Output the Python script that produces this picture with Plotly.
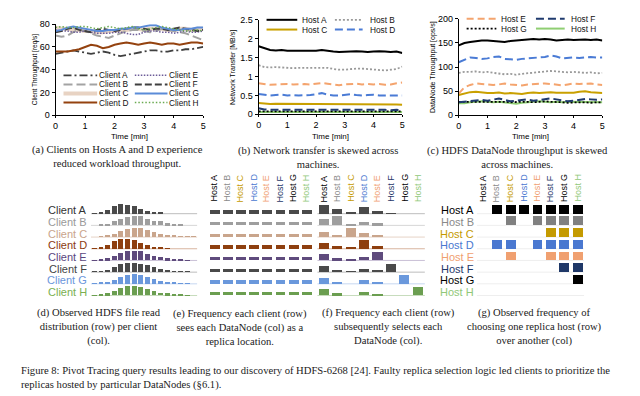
import plotly.graph_objects as go

# The page body has an 8px margin; lay the figure out in reference pixels
# and shift everything by that margin.
OX, OY = 8, 8
W, H = 640 - OX, 396 - OY


def px(x):
    return (x - OX) / W


def py(y):
    return 1 - (y - OY) / H


SANS = "Liberation Sans, Arial, sans-serif"
SERIF = "Liberation Serif, Times New Roman, serif"

# ---------------- data: time series ----------------
time_min = [0.0, 0.2, 0.4, 0.6, 0.8, 1.0, 1.2, 1.4, 1.6, 1.8, 2.0, 2.2, 2.4,
            2.6, 2.8, 3.0, 3.2, 3.4, 3.6, 3.8, 4.0, 4.2, 4.4, 4.6, 4.8, 5.0]

client_names = ["Client A", "Client B", "Client C", "Client D",
                "Client E", "Client F", "Client G", "Client H"]
client_a = [54, 55, 56, 57, 56, 55, 54, 55, 56, 55, 53, 52, 53, 54, 55, 56, 57, 57, 56, 56, 57, 57, 58, 58, 59, 60]
client_b = [70, 69, 70, 73, 75, 74, 72, 70, 69, 68, 70, 72, 74, 75, 75, 74, 73, 74, 76, 75, 74, 73, 72, 70, 68, 66]
client_c = [77, 76, 76, 75, 75, 74, 74, 73, 73, 74, 74, 75, 75, 76, 76, 75, 76, 76, 76, 75, 75, 76, 76, 75, 76, 76]
client_d = [56, 56, 56, 57, 58, 60, 62, 61, 59, 60, 62, 63, 64, 63, 62, 63, 64, 63, 62, 63, 63, 62, 63, 64, 64, 63]
client_e = [75, 74, 74, 73, 73, 74, 73, 72, 72, 72, 73, 73, 72, 71, 71, 73, 74, 74, 73, 73, 72, 73, 74, 73, 73, 74]
client_f = [73, 74, 76, 77, 75, 74, 73, 75, 76, 75, 74, 75, 76, 77, 77, 76, 75, 76, 76, 75, 76, 77, 76, 75, 74, 75]
client_g = [74, 75, 77, 78, 77, 76, 75, 74, 74, 75, 75, 76, 76, 77, 77, 78, 79, 79, 77, 76, 75, 75, 76, 76, 77, 77]
client_h = [77, 78, 77, 77, 78, 78, 77, 76, 77, 78, 77, 76, 77, 78, 76, 75, 76, 77, 78, 77, 76, 75, 74, 74, 75, 74]

host_names = ["Host A", "Host B", "Host C", "Host D",
              "Host E", "Host F", "Host G", "Host H"]
net_a = [1.80, 1.74, 1.70, 1.69, 1.70, 1.68, 1.68, 1.69, 1.68, 1.67, 1.68, 1.70, 1.67, 1.66, 1.65, 1.66, 1.66, 1.67, 1.66, 1.65, 1.66, 1.67, 1.66, 1.65, 1.66, 1.62]
net_b = [1.30, 1.25, 1.24, 1.25, 1.24, 1.23, 1.22, 1.23, 1.23, 1.24, 1.23, 1.24, 1.23, 1.20, 1.18, 1.18, 1.20, 1.21, 1.21, 1.20, 1.20, 1.19, 1.16, 1.18, 1.20, 1.26]
net_c = [0.30, 0.28, 0.27, 0.28, 0.28, 0.27, 0.28, 0.28, 0.27, 0.28, 0.28, 0.28, 0.27, 0.28, 0.27, 0.28, 0.28, 0.27, 0.27, 0.28, 0.28, 0.27, 0.27, 0.26, 0.26, 0.25]
net_d = [0.54, 0.52, 0.50, 0.51, 0.52, 0.50, 0.51, 0.50, 0.50, 0.51, 0.53, 0.56, 0.52, 0.50, 0.50, 0.52, 0.53, 0.51, 0.50, 0.51, 0.52, 0.50, 0.50, 0.51, 0.51, 0.50]
net_e = [0.82, 0.80, 0.78, 0.79, 0.80, 0.80, 0.79, 0.80, 0.80, 0.79, 0.80, 0.83, 0.81, 0.79, 0.77, 0.79, 0.80, 0.81, 0.79, 0.80, 0.79, 0.80, 0.78, 0.79, 0.82, 0.84]
net_f = [0.16, 0.13, 0.12, 0.12, 0.13, 0.13, 0.12, 0.12, 0.13, 0.13, 0.12, 0.13, 0.12, 0.12, 0.12, 0.13, 0.12, 0.12, 0.14, 0.13, 0.12, 0.12, 0.12, 0.11, 0.12, 0.10]
net_g = [0.08, 0.08, 0.08, 0.08, 0.08, 0.08, 0.08, 0.08, 0.08, 0.08, 0.08, 0.08, 0.08, 0.08, 0.08, 0.08, 0.08, 0.08, 0.08, 0.08, 0.08, 0.08, 0.08, 0.08, 0.08, 0.08]
net_h = [0.06, 0.06, 0.06, 0.06, 0.06, 0.06, 0.06, 0.06, 0.06, 0.06, 0.06, 0.06, 0.06, 0.06, 0.06, 0.06, 0.06, 0.06, 0.06, 0.06, 0.06, 0.06, 0.06, 0.06, 0.06, 0.06]

dn_a = [145, 150, 152, 154, 155, 155, 154, 153, 152, 154, 155, 157, 157, 158, 157, 158, 157, 155, 156, 157, 156, 157, 157, 156, 157, 155]
dn_b = [88, 90, 90, 91, 89, 90, 88, 87, 85, 86, 84, 86, 87, 89, 89, 90, 92, 91, 90, 89, 90, 89, 88, 89, 87, 88]
dn_c = [42, 45, 48, 49, 47, 46, 46, 47, 45, 46, 45, 44, 46, 47, 46, 47, 48, 47, 47, 48, 47, 49, 50, 48, 47, 46]
dn_d = [110, 115, 120, 119, 117, 118, 121, 122, 117, 116, 115, 117, 118, 119, 120, 121, 124, 122, 118, 119, 120, 119, 120, 121, 120, 120]
dn_e = [45, 58, 63, 66, 65, 64, 63, 64, 66, 64, 63, 62, 64, 65, 65, 66, 65, 63, 62, 64, 66, 65, 65, 66, 64, 63]
dn_f = [27, 28, 30, 31, 32, 30, 33, 35, 32, 29, 30, 32, 33, 30, 32, 34, 35, 33, 31, 29, 30, 32, 34, 33, 32, 33]
dn_g = [28, 28, 29, 28, 28, 28, 29, 28, 28, 27, 28, 28, 28, 27, 28, 29, 28, 28, 27, 26, 27, 27, 27, 26, 27, 27]
dn_h = [25, 25, 27, 28, 29, 28, 27, 28, 27, 25, 24, 26, 27, 28, 29, 28, 27, 28, 27, 28, 28, 27, 28, 28, 27, 27]

# ---------------- data: matrices ----------------
read_bins = list(range(16))
read_dist = [
    [0.3, 1.5, 4, 8, 10, 9.5, 8, 5, 3, 2, 1, 0, 0, 0, 0, 0],
    [0, 0.3, 1.5, 4, 7, 9, 10, 9.5, 7, 5, 4, 2, 1, 0.3, 0, 0],
    [0, 0.3, 1, 3, 6, 8.5, 10, 9.5, 7, 5, 3.5, 2, 1.2, 0.8, 0.5, 0.3],
    [0.4, 1.5, 4, 8.5, 10, 10, 9, 6, 4, 2, 1, 0.5, 0, 0, 0, 0],
    [0.3, 0.8, 2, 4.5, 8, 9.5, 10, 9.5, 7, 5, 3, 2, 1.2, 0.6, 0.3, 0],
    [0.3, 0.8, 2.5, 5.5, 8.5, 10, 10, 9, 7, 5, 3, 2, 1, 0.5, 0.3, 0],
    [0.3, 0.8, 2, 4, 7, 9, 10, 9, 7, 5, 3, 2, 1.2, 0.5, 0.3, 0],
    [0.3, 0.8, 2, 5, 8, 10, 10, 9, 7, 5, 3, 2, 1.2, 0.5, 0.3, 0],
]
replica_seen = [
    [0.125, 0.125, 0.125, 0.125, 0.125, 0.125, 0.125, 0.125],
    [0.125, 0.125, 0.125, 0.125, 0.125, 0.125, 0.125, 0.125],
    [0.125, 0.125, 0.125, 0.125, 0.125, 0.125, 0.125, 0.125],
    [0.125, 0.125, 0.125, 0.125, 0.125, 0.125, 0.125, 0.125],
    [0.125, 0.125, 0.125, 0.125, 0.125, 0.125, 0.125, 0.125],
    [0.125, 0.125, 0.125, 0.125, 0.125, 0.125, 0.125, 0.125],
    [0.125, 0.125, 0.125, 0.125, 0.125, 0.125, 0.125, 0.125],
    [0.125, 0.125, 0.125, 0.125, 0.125, 0.125, 0.125, 0.125],
]
replica_selected = [
    [9.0, 4.5, 1.0, 6.7, 3.0, 0.2, 0.0, 0.0],
    [6.0, 9.0, 1.0, 3.7, 2.0, 0.0, 0.0, 0.0],
    [5.3, 2.0, 8.7, 4.3, 1.0, 0.0, 0.0, 0.0],
    [6.0, 2.7, 1.3, 8.3, 3.0, 0.0, 0.0, 0.0],
    [6.0, 2.0, 1.0, 3.5, 8.3, 0.0, 0.0, 0.0],
    [6.0, 2.0, 0.3, 3.3, 1.0, 8.5, 0.0, 0.0],
    [6.0, 2.0, 0.0, 3.8, 1.0, 0.0, 8.5, 0.0],
    [6.0, 2.0, 0.0, 3.8, 1.0, 0.0, 0.0, 8.0],
]
preferred_over = [
    [0, 1, 1, 1, 1, 1, 1, 1],
    [0, 0, 1, 0, 1, 1, 1, 1],
    [0, 0, 0, 0, 0, 1, 1, 1],
    [0, 1, 1, 0, 1, 1, 1, 1],
    [0, 0, 1, 0, 0, 1, 1, 1],
    [0, 0, 0, 0, 0, 0, 1, 1],
    [0, 0, 0, 0, 0, 0, 0, 1],
    [0, 0, 0, 0, 0, 0, 0, 0],
]

# ---------------- styles ----------------
client_series = [client_a, client_b, client_c, client_d, client_e, client_f, client_g, client_h]
client_styles = [
    dict(color="#3f3f3f", width=1.8, dash="8px,3px,2px,3px"),
    dict(color="#a3a3a3", width=2.0, dash="9px,4px"),
    dict(color="#e8d3c3", width=4.0, dash="solid"),
    dict(color="#94420f", width=2.0, dash="solid"),
    dict(color="#6c5c98", width=1.5, dash="1.5px,1.5px"),
    dict(color="#3f3f3f", width=2.0, dash="7px,3px"),
    dict(color="#5b8bd8", width=2.0, dash="solid"),
    dict(color="#6aaa50", width=1.5, dash="1.5px,2px"),
]
host_styles = [
    dict(color="#000000", width=2.0, dash="solid"),
    dict(color="#9a9a9a", width=1.8, dash="2px,2px"),
    dict(color="#c9a000", width=2.0, dash="solid"),
    dict(color="#4a7bd5", width=2.0, dash="8px,4px"),
    dict(color="#f4a46e", width=2.0, dash="7px,4px"),
    dict(color="#1f3a6e", width=2.0, dash="8px,4px"),
    dict(color="#000000", width=1.8, dash="2px,2px"),
    dict(color="#8fce72", width=2.0, dash="solid"),
]
row_colors = ["#4a4a4a", "#9e9e9e", "#c9a58c", "#8e3f0f",
              "#5f4b7d", "#4a4a4a", "#6a98dc", "#6b9e50"]
row_light = ["#bdbdbd", "#d6d6d6", "#e6d3c6", "#d8b59f",
             "#c9c0d6", "#bdbdbd", "#c6d7f1", "#c7dcbc"]
client_label_colors = ["#333333", "#9a9a9a", "#c9a48c", "#8b3a0f",
                       "#5a4680", "#444444", "#6a96dc", "#7ab050"]
host_label_colors = ["#000000", "#8a8a8a", "#c49a00", "#4a78d0",
                     "#f0a070", "#1f3868", "#000000", "#90c878"]
host_cell_colors = ["#000000", "#808080", "#c49a00", "#4a78d0",
                    "#f0a070", "#1f3868", "#000000", "#90c878"]

fig = go.Figure()

# (a)
for idx in [2, 0, 1, 3, 4, 5, 6, 7]:
    fig.add_trace(go.Scatter(x=time_min, y=client_series[idx], mode="lines",
                             name=client_names[idx], line=client_styles[idx],
                             xaxis="x", yaxis="y", showlegend=False))
# (b)
net_series = [net_a, net_b, net_c, net_d, net_e, net_f, net_g, net_h]
for idx in [7, 6, 5, 2, 3, 4, 1, 0]:
    fig.add_trace(go.Scatter(x=time_min, y=net_series[idx], mode="lines",
                             name=host_names[idx], line=host_styles[idx],
                             xaxis="x2", yaxis="y2", showlegend=False))
# (c)
dn_series = [dn_a, dn_b, dn_c, dn_d, dn_e, dn_f, dn_g, dn_h]
for idx in [7, 6, 5, 2, 4, 1, 3, 0]:
    fig.add_trace(go.Scatter(x=time_min, y=dn_series[idx], mode="lines",
                             name=host_names[idx], line=host_styles[idx],
                             xaxis="x3", yaxis="y3", showlegend=False))

shapes = []
annotations = []

# (d) read distribution per client
for i, row in enumerate(read_dist):
    base = 7 - i
    shapes.append(dict(type="line", xref="x4", yref="y4", x0=-0.6, x1=16.0,
                       y0=base, y1=base, layer="below",
                       line=dict(color=row_light[i], width=1)))
    fig.add_trace(go.Bar(x=read_bins, y=[v * 0.08 for v in row], base=[base] * len(row),
                         width=0.72, marker=dict(color=row_colors[i], line=dict(width=0)),
                         xaxis="x4", yaxis="y4", showlegend=False, name=client_names[i]))
    annotations.append(dict(text=client_names[i], x=px(87), xref="paper", xanchor="right",
                            y=base + 0.3, yref="y4", yanchor="middle", showarrow=False,
                            font=dict(family=SANS, size=11, color=client_label_colors[i])))

host_idx = list(range(8))
# (e)
for i, row in enumerate(replica_seen):
    base = 7 - i
    fig.add_trace(go.Bar(x=host_idx, y=[v * 2.2 for v in row], base=[base] * 8,
                         width=0.75, marker=dict(color=row_colors[i], line=dict(width=0)),
                         xaxis="x5", yaxis="y5", showlegend=False, name=client_names[i]))
# (f)
for i, row in enumerate(replica_selected):
    base = 7 - i
    shapes.append(dict(type="line", xref="x6", yref="y6", x0=-0.5, x1=8.3,
                       y0=base, y1=base, layer="below",
                       line=dict(color=row_light[i], width=1)))
    fig.add_trace(go.Bar(x=host_idx, y=[v * 0.085 for v in row], base=[base] * 8,
                         width=0.75, marker=dict(color=row_colors[i], line=dict(width=0)),
                         xaxis="x6", yaxis="y6", showlegend=False, name=client_names[i]))
# (g)
for i, row in enumerate(preferred_over):
    base = 7 - i
    shapes.append(dict(type="line", xref="x7", yref="y7", x0=-0.5, x1=7.5,
                       y0=base, y1=base, layer="below",
                       line=dict(color="#eeeeee", width=1)))
    xs = [j for j, v in enumerate(row) if v]
    if xs:
        fig.add_trace(go.Bar(x=xs, y=[0.75] * len(xs), base=[base] * len(xs),
                             width=0.74, marker=dict(color=host_cell_colors[i], line=dict(width=0)),
                             xaxis="x7", yaxis="y7", showlegend=False, name=host_names[i]))
    annotations.append(dict(text=host_names[i], x=px(477), xref="paper", xanchor="right",
                            y=base + 0.3, yref="y7", yanchor="middle", showarrow=False,
                            font=dict(family=SANS, size=11, color=host_label_colors[i])))

# column labels for (e), (f), (g)
for ax in ["x5", "x6", "x7"]:
    for j in host_idx:
        annotations.append(dict(text=host_names[j], x=j, xref=ax, xanchor="center",
                                y=py(203), yref="paper", yanchor="bottom", textangle=-90,
                                showarrow=False, borderpad=0,
                                font=dict(family=SANS, size=9, color=host_label_colors[j])))

# legends (manual, compact)
def legend_entry(x0, x1, xt, y, style, label):
    shapes.append(dict(type="line", xref="paper", yref="paper", x0=px(x0), x1=px(x1),
                       y0=py(y), y1=py(y), line=style))
    annotations.append(dict(text=label, x=px(xt), xref="paper", xanchor="left",
                            y=py(y), yref="paper", yanchor="middle", showarrow=False,
                            borderpad=0, font=dict(family=SANS, size=8.3, color="#111")))

for k in range(4):
    legend_entry(61, 95, 96, 72 + 9.3 * k, client_styles[k], client_names[k])
    legend_entry(133, 166, 167, 72 + 9.3 * k, client_styles[k + 4], client_names[k + 4])
for k, (hl, hr) in enumerate([(0, 1), (2, 3)]):
    legend_entry(266, 297, 301, 15 + 10 * k, host_styles[hl], host_names[hl])
    legend_entry(335, 363, 369, 15 + 10 * k, host_styles[hr], host_names[hr])
for k, (hl, hr) in enumerate([(4, 5), (6, 7)]):
    legend_entry(468, 498, 502, 14 + 10 * k, host_styles[hl], host_names[hl])
    legend_entry(538, 567, 572, 14 + 10 * k, host_styles[hr], host_names[hr])

# axis titles (placed tightly as in the reference)
axis_titles = [
    ("Time [min]", 127.5, 135, 0, 8),
    ("Time [min]", 330.5, 134.5, 0, 8),
    ("Time [min]", 532.5, 135, 0, 8),
    ("Client Throughput [req/s]", 32, 66, -90, 6.5),
    ("Network Transfer [MB/s]", 232, 63.5, -90, 7),
    ("DataNode Throughput [ops/s]", 434, 63.5, -90, 7),
]
for text, cx, cy, ang, size in axis_titles:
    annotations.append(dict(text=text, x=px(cx), y=py(cy), xref="paper", yref="paper",
                            xanchor="center", yanchor="middle", textangle=ang,
                            showarrow=False, borderpad=0,
                            font=dict(family=SANS, size=size, color="#000")))

# captions
captions = [
    ("(a) Clients on Hosts A and D experience<br>reduced workload throughput.", 116, 155.5),
    ("(b) Network transfer is skewed across<br>machines.", 318, 156),
    ("(c) HDFS DataNode throughput is skewed<br>across machines.", 519, 156),
    ("(d) Observed HDFS file read<br>distribution (row) per client<br>(col).", 97, 330.5),
    ("(e) Frequency each client (row)<br>sees each DataNode (col) as a<br>replica location.", 239, 330.5),
    ("(f) Frequency each client (row)<br>subsequently selects each<br>DataNode (col).", 389, 330.5),
    ("(g) Observed frequency of<br>choosing one replica host (row)<br>over another (col)", 537, 330.5),
]
for text, cx, cy in captions:
    annotations.append(dict(text=text, x=px(cx), y=py(cy), xref="paper", yref="paper",
                            xanchor="center", yanchor="middle", align="center",
                            showarrow=False, borderpad=0,
                            font=dict(family=SERIF, size=10.6, color="#1a1a1a")))
annotations.append(dict(
    text="Figure 8: Pivot Tracing query results leading to our discovery of HDFS-6268 [24]. "
         "Faulty replica selection logic led clients to prioritize the<br>"
         "replicas hosted by particular DataNodes (§6.1).",
    x=px(17), y=py(382.5), xref="paper", yref="paper", xanchor="left", yanchor="middle",
    align="left", showarrow=False, borderpad=0,
    font=dict(family=SERIF, size=10.6, color="#1a1a1a")))

# axes
def line_axis(domain, rng, dtick, anchor, tickvals=None, ticktext=None, ticklen=3):
    ax = dict(domain=domain, range=rng, anchor=anchor, showgrid=False, zeroline=False,
              showline=True, linecolor="#000", linewidth=1, ticks="outside",
              ticklen=ticklen, tickwidth=1, tickcolor="#000",
              tickfont=dict(family=SANS, size=9, color="#000"),
              fixedrange=True)
    if tickvals is not None:
        ax.update(tickmode="array", tickvals=tickvals, ticktext=ticktext)
    else:
        ax.update(dtick=dtick, tick0=0)
    return ax

hidden = dict(visible=False, showgrid=False, zeroline=False, fixedrange=True)
row_domain = [py(299.2), py(203.2)]

fig.update_layout(
    width=W, height=H, margin=dict(l=0, r=0, t=0, b=0),
    paper_bgcolor="white", plot_bgcolor="white",
    barmode="overlay", bargap=0, showlegend=False,
    xaxis=line_axis([px(53), px(202)], [0, 5], 1, "y", ticklen=2),
    yaxis=line_axis([py(113), py(19.5)], [0, 80], 20, "x"),
    xaxis2=line_axis([px(258), px(403)], [0, 5], 1, "y2", ticklen=2),
    yaxis2=line_axis([py(112), py(15)], [0, 2.5], None, "x2",
                     tickvals=[0, 0.5, 1, 1.5, 2, 2.5], ticktext=["0", "0.5", "1", "1.5", "2", "2.5"]),
    xaxis3=line_axis([px(460), px(605)], [0, 5], 1, "y3", ticklen=2),
    yaxis3=line_axis([py(113), py(14)], [0, 200], 50, "x3"),
    xaxis4=dict(hidden, domain=[px(88.7), px(195.9)], range=[-0.5, 15.5], anchor="y4"),
    yaxis4=dict(hidden, domain=row_domain, range=[-0.1, 7.9], anchor="x4"),
    xaxis5=dict(hidden, domain=[px(206.4), px(312.8)], range=[-0.5, 7.5], anchor="y5"),
    yaxis5=dict(hidden, domain=row_domain, range=[-0.1, 7.9], anchor="x5"),
    xaxis6=dict(hidden, domain=[px(317.2), px(425.8)], range=[-0.5, 7.5], anchor="y6"),
    yaxis6=dict(hidden, domain=row_domain, range=[-0.1, 7.9], anchor="x6"),
    xaxis7=dict(hidden, domain=[px(478.2), px(586.8)], range=[-0.5, 7.5], anchor="y7"),
    yaxis7=dict(hidden, domain=row_domain, range=[-0.1, 7.9], anchor="x7"),
    shapes=shapes, annotations=annotations,
)

fig.write_html("out.html")
